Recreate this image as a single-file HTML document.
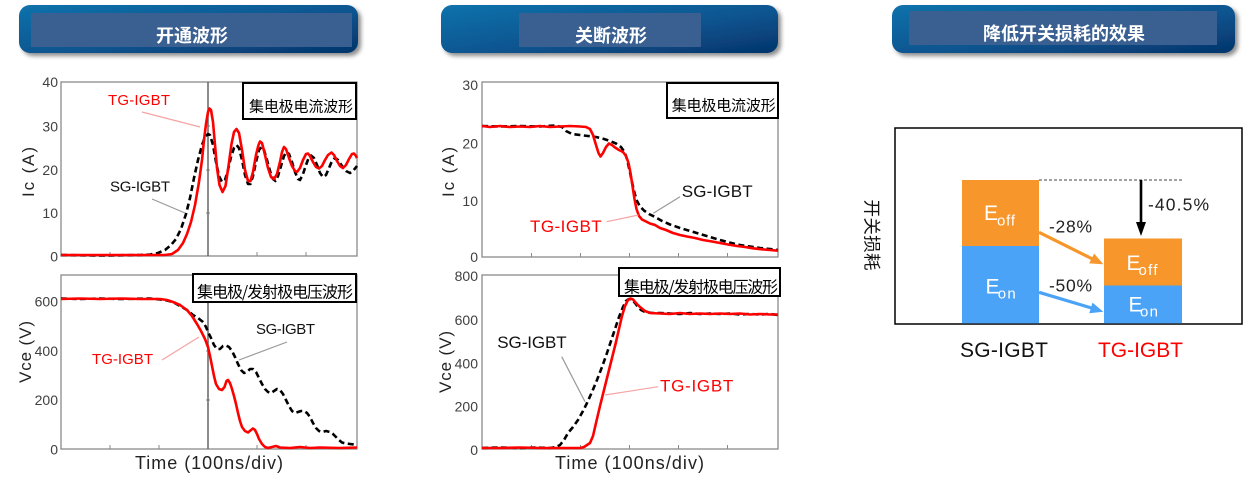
<!DOCTYPE html>
<html>
<head>
<meta charset="utf-8">
<style>
  html,body{margin:0;padding:0;background:#fff;}
  svg{display:block;}
  text{font-family:"Liberation Sans","Noto Sans CJK SC",sans-serif;}
  .cjk{font-family:"Noto Sans CJK SC","WenQuanYi Zen Hei",sans-serif;}
</style>
</head>
<body>
<svg width="1251" height="483" viewBox="0 0 1251 483" xmlns="http://www.w3.org/2000/svg">
  <defs>
    <linearGradient id="hg" x1="0" y1="0" x2="1" y2="1">
      <stop offset="0" stop-color="#1272ab"/>
      <stop offset="0.55" stop-color="#0a5590"/>
      <stop offset="1" stop-color="#05346b"/>
    </linearGradient>
    <filter id="sh" x="-5%" y="-20%" width="115%" height="160%">
      <feDropShadow dx="3" dy="3" stdDeviation="2" flood-color="#000" flood-opacity="0.45"/>
    </filter>
  </defs>

  <!-- ===== HEADERS ===== -->
  <rect x="19" y="5" width="339" height="48" rx="11" fill="url(#hg)" filter="url(#sh)"/>
  <rect x="31" y="13" width="321" height="34" fill="#3a6091"/>
  <text class="cjk" x="192" y="42" font-size="18" font-weight="700" fill="#fff" text-anchor="middle">开通波形</text>

  <rect x="441" y="5" width="337" height="48" rx="11" fill="url(#hg)" filter="url(#sh)"/>
  <rect x="519" y="13" width="182" height="34" fill="#3a6091"/>
  <text class="cjk" x="611" y="42" font-size="18" font-weight="700" fill="#fff" text-anchor="middle">关断波形</text>

  <rect x="892" y="5" width="343" height="48" rx="11" fill="url(#hg)" filter="url(#sh)"/>
  <rect x="909" y="11" width="308" height="34" fill="#3a6091"/>
  <text class="cjk" x="1064" y="40" font-size="18" font-weight="700" fill="#fff" text-anchor="middle">降低开关损耗的效果</text>

  <!-- ===== CHART 1 TOP: turn-on Ic ===== -->
  <rect x="61" y="82" width="296" height="174" fill="#fff" stroke="#8a8a8a" stroke-width="1.3"/>
  <g stroke="#8a8a8a" stroke-width="1">
    <line x1="110" y1="256" x2="110" y2="252"/><line x1="159" y1="256" x2="159" y2="252"/>
    <line x1="257" y1="256" x2="257" y2="252"/><line x1="306" y1="256" x2="306" y2="252"/>
    <line x1="206" y1="213" x2="210" y2="213"/><line x1="206" y1="170" x2="210" y2="170"/><line x1="206" y1="126" x2="210" y2="126"/>
  </g>
  <line x1="208" y1="82" x2="208" y2="256" stroke="#666" stroke-width="1.5"/>
  <g font-size="14" fill="#404040" text-anchor="end">
    <text x="58" y="87">40</text>
    <text x="58" y="131.5">30</text>
    <text x="58" y="175">20</text>
    <text x="58" y="218">10</text>
    <text x="58" y="261.5">0</text>
  </g>
  <text transform="translate(34,172) rotate(-90)" font-size="17" fill="#222" text-anchor="middle" textLength="50" lengthAdjust="spacing">Ic (A)</text>

  <path fill="none" stroke="#000" stroke-width="2.6" stroke-dasharray="6,3.5" stroke-linejoin="round"
    d="M61,255 L100,255.5 L140,255 L150,254.5 L158,253 L165,250 L171,245 L176,239 L181,229 L186,214 L190,198 L194,178 L198,160 L202,145 L205,137 L208,134 L210,135 L213,145 L216,162 L219,176 L222,182 L225,180 L228,170 L231,157 L234,148 L236.5,145 L239,148 L242,160 L245,175 L248,184 L250.5,184 L253,176 L256,162 L259,150 L261.5,147 L264,150 L267,160 L270,171 L273,179 L275.5,181 L278,176 L281,166 L284,156 L286.5,152 L289,154 L292,162 L295,172 L298,179 L300,180 L303,174 L306,165 L309,157 L311,155.5 L314,158 L317,165 L320,173 L323,177 L326,175 L329,168 L332,161 L335,158 L338,160 L342,166 L346,171 L350,173 L353,171 L357,166"/>
  <path fill="none" stroke="#ff0000" stroke-width="2.6" stroke-linejoin="round"
    d="M61,255 L120,255 L165,255 L172,254 L178,250 L183,243 L187,234 L191,222 L195,205 L199,182 L202,160 L204,140 L206,124 L208,112 L209.5,108.5 L211,110 L213,122 L215,145 L217,168 L219.5,185 L222.5,192 L225.5,186 L228.5,166 L231.5,144 L234,132 L236.5,129 L239,133 L242,150 L245,170 L248,181 L250.5,181 L253,172 L256,155 L258.5,145 L260,141.5 L262,143 L265,155 L268,168 L271,177 L274,179 L277,174 L280,162 L282,152 L284,147 L286,149 L289,158 L292,166 L295,171 L297,172 L300,168 L303,160 L306,154 L308,153.5 L310,156 L313,162 L316,167 L319,168.5 L322,166 L325,160 L328,155 L331.5,152.5 L334,155 L337,161 L340,166 L343,168 L346,165 L349,159 L352,154 L354,153.5 L356,156 L357,158"/>

  <line x1="142" y1="112" x2="200" y2="127" stroke="#f5a3a3" stroke-width="1.2"/>
  <line x1="152" y1="199" x2="185" y2="213" stroke="#999" stroke-width="1.2"/>
  <text x="108" y="105" font-size="15" fill="#ff0000" textLength="62" lengthAdjust="spacing">TG-IGBT</text>
  <text x="110" y="191.5" font-size="15" fill="#111" textLength="60" lengthAdjust="spacing">SG-IGBT</text>

  <rect x="243" y="83" width="113" height="36" fill="#fff" stroke="#000" stroke-width="2"/>
  <text class="cjk" x="249" y="111.5" font-size="15" fill="#000" textLength="104" lengthAdjust="spacing">集电极电流波形</text>

  <!-- ===== CHART 1 BOTTOM: turn-on Vce ===== -->
  <rect x="61" y="275" width="296" height="174" fill="#fff" stroke="#8a8a8a" stroke-width="1.3"/>
  <g stroke="#8a8a8a" stroke-width="1">
    <line x1="110" y1="449" x2="110" y2="445"/><line x1="159" y1="449" x2="159" y2="445"/>
    <line x1="257" y1="449" x2="257" y2="445"/><line x1="306" y1="449" x2="306" y2="445"/>
    <line x1="206" y1="400" x2="210" y2="400"/><line x1="206" y1="351" x2="210" y2="351"/>
  </g>
  <line x1="208" y1="275" x2="208" y2="449" stroke="#666" stroke-width="1.5"/>
  <g font-size="14" fill="#404040" text-anchor="end">
    <text x="58" y="306.5">600</text>
    <text x="58" y="356">400</text>
    <text x="58" y="405">200</text>
    <text x="58" y="454.5">0</text>
  </g>
  <text transform="translate(31,352) rotate(-90)" font-size="17" fill="#222" text-anchor="middle" textLength="62" lengthAdjust="spacing">Vce (V)</text>

  <path fill="none" stroke="#000" stroke-width="2.6" stroke-dasharray="6,3.5" stroke-linejoin="round"
    d="M61,298.5 L80,299 L100,298.5 L120,299 L150,298.5 L160,299.5 L167,300.5 L173,302 L180,306 L187,310 L193,315 L198,318 L203,322 L206,327 L208,332 L211,338 L214,345 L217,349 L220,349 L223,346 L226,345.5 L229,347 L232,351 L235,357 L238,364 L241,370 L244,373 L247,372 L250,369 L253,369 L256,372 L259,378 L262,384 L265,389 L268,392 L271,393 L274,391 L277,389 L280,390 L283,394 L286,400 L289,406 L292,411 L295,413 L298,412 L301,411 L304,411 L307,413 L310,417 L313,423 L316,428 L319,431 L322,432 L326,431 L330,432 L333,434 L336,437 L339,440 L342,442.5 L346,443.5 L350,444 L354,444.5 L357,445"/>
  <path fill="none" stroke="#ff0000" stroke-width="2.6" stroke-linejoin="round"
    d="M61,299 L80,298.5 L100,299 L120,298.5 L140,299 L160,299 L167,300 L173,302 L180,305 L187,310 L192,316 L197,324 L201,331 L205,339 L208,347 L210,356 L212,366 L214,376 L216,384 L219,389 L222,390 L224.5,387 L226.5,381 L228,380 L230,383 L232,389 L234,396 L236,404 L238,413 L240,421 L242,427 L245,431 L248,432.5 L251,430 L253,428.5 L255,430 L257,434 L259,439 L262,444 L265,447 L268,448 L272,447 L276,446 L280,447.5 L290,448 L300,447 L310,448 L320,447.5 L340,448 L357,447.5"/>

  <line x1="239" y1="360" x2="287" y2="342" stroke="#999" stroke-width="1.2"/>
  <line x1="162" y1="360" x2="199" y2="337" stroke="#f5a3a3" stroke-width="1.2"/>
  <text x="256" y="334" font-size="15" fill="#111" textLength="59" lengthAdjust="spacing">SG-IGBT</text>
  <text x="92" y="364" font-size="15" fill="#ff0000" textLength="61" lengthAdjust="spacing">TG-IGBT</text>

  <rect x="193" y="274" width="163" height="28" fill="#fff" stroke="#000" stroke-width="2"/>
  <text class="cjk" x="197" y="297.5" font-size="16" fill="#000" textLength="156" lengthAdjust="spacing">集电极/发射极电压波形</text>

  <text x="209" y="469" font-size="18" fill="#222" text-anchor="middle" textLength="148" lengthAdjust="spacing">Time (100ns/div)</text>

  <!-- ===== CHART 2 TOP: turn-off Ic ===== -->
  <rect x="482" y="82" width="296" height="175" fill="#fff" stroke="#8a8a8a" stroke-width="1.3"/>
  <g stroke="#8a8a8a" stroke-width="1">
    <line x1="531.5" y1="257" x2="531.5" y2="253"/><line x1="580.5" y1="257" x2="580.5" y2="253"/>
    <line x1="629.5" y1="257" x2="629.5" y2="253"/><line x1="678.5" y1="257" x2="678.5" y2="253"/>
    <line x1="727.5" y1="257" x2="727.5" y2="253"/>
  </g>
  <g font-size="14" fill="#404040" text-anchor="end">
    <text x="478" y="90">30</text>
    <text x="478" y="148.5">20</text>
    <text x="478" y="206">10</text>
    <text x="478" y="262">0</text>
  </g>
  <text transform="translate(454,172) rotate(-90)" font-size="17" fill="#222" text-anchor="middle" textLength="50" lengthAdjust="spacing">Ic (A)</text>

  <path fill="none" stroke="#000" stroke-width="2.6" stroke-dasharray="6,3.5" stroke-linejoin="round"
    d="M482,126 L500,126.5 L520,126 L540,126.5 L555,125.5 L562,127 L566,131 L572,134 L580,135 L588,136 L596,137 L604,139 L610,141 L616,143.5 L621,147 L624.5,152 L627,159 L629.5,170 L632,182 L634.5,193 L637,201 L640,206.5 L644,210.5 L649,214 L655,217 L662,221 L670,224.5 L680,228 L690,231 L700,234 L710,237 L720,240 L730,242.7 L740,245 L750,246.5 L760,248 L770,249 L778,250"/>
  <path fill="none" stroke="#ff0000" stroke-width="2.6" stroke-linejoin="round"
    d="M482,126 L490,127 L500,126 L510,127 L520,126.5 L530,127 L540,126 L550,127 L560,126.5 L570,126 L580,126.5 L586,127 L590,129 L593,135 L596,145 L598.5,153 L600.5,156.5 L603,153 L606,147 L609,143.5 L612,145 L615,147.5 L619,150 L623,152 L626,156 L628.5,163 L630.5,173 L632.5,186 L634.5,199 L636.5,209 L639,216 L642,219.5 L646,221.5 L650,223.5 L655,225 L660,228 L666,230 L673,233 L680,235 L687,236.5 L695,238 L703,240 L712,241.5 L720,243 L728,244.5 L737,246 L745,247 L753,248.3 L762,249.3 L770,250 L778,250.7"/>

  <line x1="680" y1="196.7" x2="653.3" y2="213.3" stroke="#999" stroke-width="1.2"/>
  <line x1="606.7" y1="221.7" x2="638.3" y2="215" stroke="#f5a3a3" stroke-width="1.2"/>
  <text x="681.7" y="197" font-size="17" fill="#111" textLength="71" lengthAdjust="spacing">SG-IGBT</text>
  <text x="530" y="232" font-size="17" fill="#ff0000" textLength="71.7" lengthAdjust="spacing">TG-IGBT</text>

  <rect x="667" y="83" width="111" height="35" fill="#fff" stroke="#000" stroke-width="2"/>
  <text class="cjk" x="671.7" y="110.5" font-size="15" fill="#000" textLength="104" lengthAdjust="spacing">集电极电流波形</text>

  <!-- ===== CHART 2 BOTTOM: turn-off Vce ===== -->
  <rect x="482" y="275" width="296" height="174" fill="#fff" stroke="#8a8a8a" stroke-width="1.3"/>
  <g stroke="#8a8a8a" stroke-width="1">
    <line x1="531.5" y1="449" x2="531.5" y2="445"/><line x1="580.5" y1="449" x2="580.5" y2="445"/>
    <line x1="629.5" y1="449" x2="629.5" y2="445"/><line x1="678.5" y1="449" x2="678.5" y2="445"/>
    <line x1="727.5" y1="449" x2="727.5" y2="445"/>
  </g>
  <g font-size="14" fill="#404040" text-anchor="end">
    <text x="478" y="281">800</text>
    <text x="478" y="325">600</text>
    <text x="478" y="368.3">400</text>
    <text x="478" y="411.7">200</text>
    <text x="478" y="455">0</text>
  </g>
  <text transform="translate(451,362) rotate(-90)" font-size="17" fill="#222" text-anchor="middle" textLength="62" lengthAdjust="spacing">Vce (V)</text>

  <path fill="none" stroke="#000" stroke-width="2.6" stroke-dasharray="6,3.5" stroke-linejoin="round"
    d="M482,448 L500,447.5 L520,448 L535,447.5 L550,448 L556,447 L560,445 L564,440 L568,433 L573,427 L578,420 L583,411 L587,403 L592,392 L597,380 L602,367 L607,353 L611,341 L615,329 L619,317 L623,307 L626,301 L629,299 L632,300 L635,303 L638,307 L641,310 L645,312 L652,313 L660,313 L670,313.5 L680,314 L690,313 L700,314 L710,313.5 L720,314 L730,313.5 L740,314.5 L750,314 L760,314.5 L770,314 L778,315"/>
  <path fill="none" stroke="#ff0000" stroke-width="2.6" stroke-linejoin="round"
    d="M482,448 L500,448 L520,447.5 L540,448 L560,448 L580,448 L584,447 L587,445 L590,443 L593,436 L596,423 L600,406 L604,390 L608,374 L612,358 L616,342 L619,329 L622,316 L625,306 L628,300 L630.5,298.5 L633,299.5 L636,303 L640,307 L645,311 L650,313 L660,313.5 L670,314 L680,313 L690,314 L700,313.5 L710,314 L720,313.5 L730,314 L740,313.5 L750,314.5 L760,314 L770,314.5 L778,314.5"/>

  <line x1="561.7" y1="356.7" x2="585" y2="401.7" stroke="#999" stroke-width="1.2"/>
  <line x1="658.3" y1="386.7" x2="605" y2="395" stroke="#f5a3a3" stroke-width="1.2"/>
  <text x="497.3" y="348" font-size="17" fill="#111" textLength="69.4" lengthAdjust="spacing">SG-IGBT</text>
  <text x="660" y="391.5" font-size="17" fill="#ff0000" textLength="73.3" lengthAdjust="spacing">TG-IGBT</text>

  <rect x="619" y="268" width="161" height="28" fill="#fff" stroke="#000" stroke-width="2"/>
  <text class="cjk" x="624" y="292.5" font-size="16" fill="#000" textLength="154" lengthAdjust="spacing">集电极/发射极电压波形</text>

  <text x="629.5" y="469" font-size="18" fill="#222" text-anchor="middle" textLength="149" lengthAdjust="spacing">Time (100ns/div)</text>

  <!-- ===== PANEL 3: switching loss ===== -->
  <rect x="895" y="128" width="347" height="196" fill="#fff" stroke="#000" stroke-width="1.5"/>

  <text class="cjk" transform="translate(872,235) rotate(90)" font-size="17.5" fill="#111" text-anchor="middle" dominant-baseline="central" textLength="71" lengthAdjust="spacing">开关损耗</text>

  <rect x="962" y="180" width="77" height="66" fill="#f7962a"/>
  <rect x="962" y="246" width="77" height="77.3" fill="#4aa3f7"/>
  <rect x="1104" y="238.5" width="78" height="47" fill="#f7962a"/>
  <rect x="1104" y="285.5" width="78" height="37.8" fill="#4aa3f7"/>

  <g fill="#fff">
    <text x="984" y="220" font-size="21">E</text>
    <text x="997" y="225.7" font-size="15" textLength="18" lengthAdjust="spacing">off</text>
    <text x="985.5" y="293.3" font-size="21">E</text>
    <text x="997.7" y="298.3" font-size="15" textLength="18" lengthAdjust="spacing">on</text>
    <text x="1126.5" y="270" font-size="21">E</text>
    <text x="1138.5" y="275" font-size="15" textLength="19" lengthAdjust="spacing">off</text>
    <text x="1128.5" y="311.7" font-size="21">E</text>
    <text x="1140" y="316.7" font-size="15" textLength="18" lengthAdjust="spacing">on</text>
  </g>

  <line x1="1039" y1="180" x2="1182" y2="180" stroke="#444" stroke-width="1" stroke-dasharray="3,2"/>
  <line x1="1141" y1="180" x2="1141" y2="224" stroke="#000" stroke-width="2.6"/>
  <polygon points="1136,222 1146,222 1141,236" fill="#000"/>

  <line x1="1039" y1="232.3" x2="1092.5" y2="259" stroke="#f7962a" stroke-width="3.2"/>
  <polygon points="1103.3,264.3 1089.2,263.4 1094.2,253.6" fill="#f7962a"/>
  <line x1="1039" y1="292.3" x2="1091.5" y2="308" stroke="#4aa3f7" stroke-width="3.2"/>
  <polygon points="1103.3,311.7 1089.3,313.2 1092.5,302.6" fill="#4aa3f7"/>

  <g font-size="17.5" fill="#222">
    <text x="1049" y="232.3" textLength="43" lengthAdjust="spacing">-28%</text>
    <text x="1049" y="291.7" textLength="43" lengthAdjust="spacing">-50%</text>
    <text x="1148" y="210.5" textLength="61" lengthAdjust="spacing">-40.5%</text>
  </g>

  <text x="960" y="357" font-size="21" fill="#111" textLength="88" lengthAdjust="spacing">SG-IGBT</text>
  <text x="1098" y="357" font-size="21" fill="#ff0000" textLength="85" lengthAdjust="spacing">TG-IGBT</text>
</svg>
</body>
</html>
